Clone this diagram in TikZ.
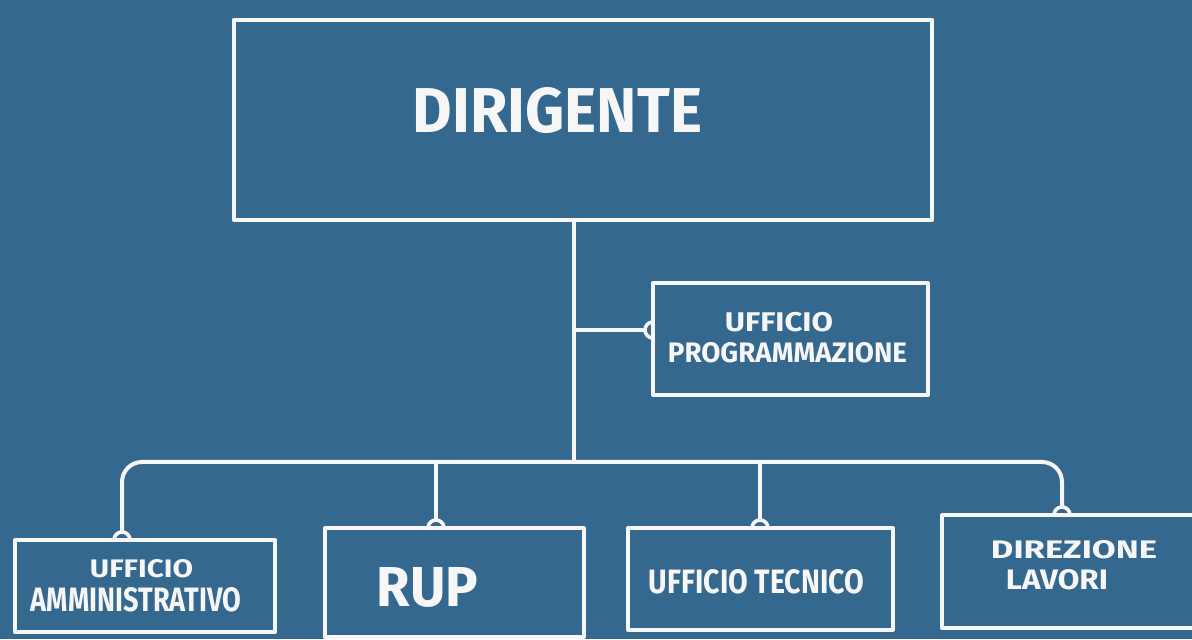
\documentclass[tikz,border=0pt]{standalone}
\usepackage{fontspec}
\setmainfont{Fira Sans}
\usetikzlibrary{calc}
\definecolor{bgblue}{RGB}{52,104,143}
\definecolor{chalk}{RGB}{246,246,246}
\newcommand{\fitline}[3]{\resizebox{#1cm}{#2cm}{#3}}
\begin{document}
\begin{tikzpicture}[x=0.025cm,y=0.025cm,
  boxst/.style={draw=chalk,line width=0.1cm,line join=round,inner sep=0pt,outer sep=0pt,rectangle},
  conn/.style={draw=chalk,line width=0.1cm,line cap=round,line join=round},
  sock/.style={draw=chalk,line width=0.09cm,line cap=round},
  txt/.style={text=chalk,inner sep=0pt,font=\bfseries}]
\useasboundingbox (0,0) rectangle (1192,639);
\fill[bgblue] (0,0) rectangle (1192,639);
\clip (0,0) rectangle (1192,639);

% boxes
\node[boxst,minimum width=17.45cm,minimum height=5cm] (dir) at (583,519) {};
\node[boxst,minimum width=6.875cm,minimum height=2.8cm] (prog) at (790.5,300) {};
\node[boxst,minimum width=6.5cm,minimum height=2.3cm] (amm) at (145,53) {};
\node[boxst,minimum width=6.475cm,minimum height=2.725cm] (rup) at (454.5,56.5) {};
\node[boxst,minimum width=6.625cm,minimum height=2.55cm] (tec) at (760.5,60) {};
\node[boxst,minimum width=6.95cm,minimum height=2.825cm] (dl) at (1081,67.5) {};

% texts
\node[txt] (tdir) at (557.5,528.5) {\fitline{7.225}{1.125}{DIRIGENTE}};
\node[txt] (tprog1) at (779,316.5) {\fitline{2.7}{0.48}{UFFICIO}};
\node[txt] (tprog2) at (787.5,286) {\fitline{5.975}{0.5}{PROGRAMMAZIONE}};
\node[txt] (tamm1) at (141.5,70.5) {\fitline{2.575}{0.45}{UFFICIO}};
\node[txt] (tamm2) at (136,39) {\fitline{5.25}{0.6}{AMMINISTRATIVO}};
\node[txt] (trup) at (427.5,51.5) {\fitline{2.525}{0.975}{RUP}};
\node[txt] (ttec) at (756.5,57.5) {\fitline{5.375}{0.6}{UFFICIO TECNICO}};
\node[txt] (tdl1) at (1074,89) {\fitline{4.15}{0.45}{DIREZIONE}};
\node[txt] (tdl2) at (1057,59) {\fitline{2.55}{0.5}{LAVORI}};

% connector coordinates
\coordinate (j1) at (574,309);
\coordinate (bus) at (574,177);
\coordinate (b1) at (122,177);
\coordinate (b2) at (436,177);
\coordinate (b3) at (760,177);
\coordinate (b4) at (1062,177);

% trunk
\draw[conn] (dir.south -| j1) -- (bus);
% branch to programmazione
\draw[conn] (j1) -- ($(prog.west |- j1)+(-8,0)$);
\draw[sock] ($(prog.west |- j1)+(0,8)$) arc[start angle=90,end angle=270,radius=0.2cm];
% bus with rounded ends
\draw[conn,rounded corners=0.5cm] ($(amm.north -| b1)+(0,8)$) |- (bus) -| ($(dl.north -| b4)+(0,8)$);
\draw[conn] (b2) -- ($(rup.north -| b2)+(0,8)$);
\draw[conn] (b3) -- ($(tec.north -| b3)+(0,8)$);
% sockets
\draw[sock] ($(amm.north -| b1)+(-8,0)$) arc[start angle=180,end angle=0,radius=0.2cm];
\draw[sock] ($(rup.north -| b2)+(-8,0)$) arc[start angle=180,end angle=0,radius=0.2cm];
\draw[sock] ($(tec.north -| b3)+(-8,0)$) arc[start angle=180,end angle=0,radius=0.2cm];
\draw[sock] ($(dl.north -| b4)+(-8,0)$) arc[start angle=180,end angle=0,radius=0.2cm];
\end{tikzpicture}
\end{document}
